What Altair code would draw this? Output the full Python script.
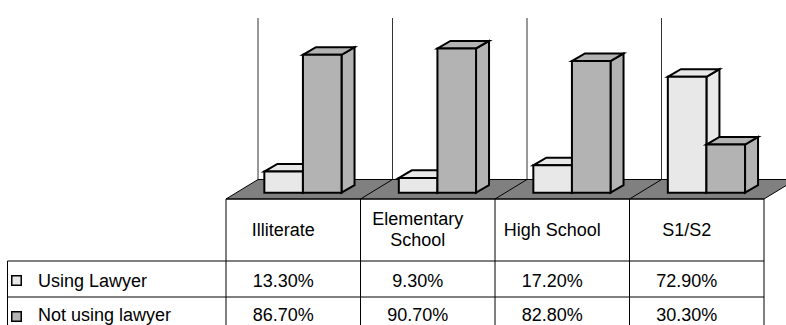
import altair as alt
import pandas as pd

# ---- data ---------------------------------------------------------------
categories = ["Illiterate", "Elementary School", "High School", "S1/S2"]
header_lines = [["Illiterate"], ["Elementary", "School"], ["High School"], ["S1/S2"]]
series = ["Using Lawyer", "Not using lawyer"]
using_lawyer = [13.3, 9.3, 17.2, 72.9]
not_using_lawyer = [86.7, 90.7, 82.8, 30.3]

# ---- layout -------------------------------------------------------------
W, H = 786, 325
COL_PX = 134.5      # width of one category column (px)
PCT_PX = 1.59       # pixels per percentage point
X0_PX = 226         # left edge of the first category column
BASE_PX = 192.7     # baseline of the bar front faces
FONT = "Liberation Sans"
FS = 18

fills = {"Using Lawyer": "#e8e8e8", "Not using lawyer": "#b3b3b3"}


def ux(px):
    return (px - X0_PX) / COL_PX


def uy(py):
    return (BASE_PX - py) / PCT_PX


x_scale = alt.Scale(domain=[ux(0), ux(W)], nice=False, zero=False)
y_scale = alt.Scale(domain=[uy(H), uy(0)], nice=False, zero=False)

BAR_START = 0.285           # first bar offset inside a column
BAR_W = 0.287               # bar width in column units
DX = 13 / COL_PX            # bar depth, horizontal
DY = 7.6 / PCT_PX           # bar depth, vertical
FLOOR_DX = 32 / COL_PX
FLOOR_FRONT = uy(199)
FLOOR_BACK = uy(179.5)
WALL_TOP = uy(18)
TEXT_DX = -10 / COL_PX      # table text sits a little left of the column centre

# ---- bar faces ----------------------------------------------------------
fronts, tops, sides = [], [], []
for s_i, (name, vals) in enumerate(zip(series, [using_lawyer, not_using_lawyer])):
    for c_i, v in enumerate(vals):
        x0 = c_i + BAR_START + s_i * BAR_W
        x1 = x0 + BAR_W
        bid = f"{name}-{c_i}"
        fronts.append({"series": name, "x": x0, "x2": x1, "y": 0, "y2": v})
        for x, lo, hi in [(x0, v, v), (x0 + DX, v, v + DY), (x1, v, v + DY), (x1 + DX, v + DY, v + DY)]:
            tops.append({"series": name, "bar": bid, "x": x, "lo": lo, "hi": hi})
        for x, lo, hi in [(x1, 0, v), (x1 + DX, DY, v + DY)]:
            sides.append({"series": name, "bar": bid, "x": x, "lo": lo, "hi": hi})

front_df = pd.DataFrame(fronts)
top_df = pd.DataFrame(tops)
side_df = pd.DataFrame(sides)

X = lambda f: alt.X(f, type="quantitative", scale=x_scale, axis=None)
Y = lambda f: alt.Y(f, type="quantitative", scale=y_scale, axis=None)
fill_enc = alt.Fill("series:N", scale=alt.Scale(domain=series, range=[fills[s] for s in series]), legend=None)

# ---- floor and back wall ------------------------------------------------
n = len(categories)
floor_df = pd.DataFrame({
    "x": [0, FLOOR_DX, n, n + FLOOR_DX],
    "lo": [FLOOR_FRONT, FLOOR_FRONT, FLOOR_FRONT, FLOOR_BACK],
    "hi": [FLOOR_FRONT, FLOOR_BACK, FLOOR_BACK, FLOOR_BACK],
})
floor = alt.Chart(floor_df).mark_area(fill="#808080", stroke="#000", strokeWidth=1).encode(
    x=X("x"), y=Y("lo"), y2="hi")

divider_df = pd.DataFrame({"x": [float(i) for i in range(1, n)]})
divider_df["x2"] = divider_df["x"] + FLOOR_DX
divider_df["y"] = FLOOR_FRONT
divider_df["y2"] = FLOOR_BACK
floor_div = alt.Chart(divider_df).mark_rule(color="#000", strokeWidth=1).encode(
    x=X("x"), x2="x2", y=Y("y"), y2="y2")

grid_df = pd.DataFrame({"x": [i + FLOOR_DX for i in range(n + 1)], "y": FLOOR_BACK, "y2": WALL_TOP})
grid = alt.Chart(grid_df).mark_rule(color="#333", strokeWidth=1).encode(
    x=X("x"), y=Y("y"), y2="y2")

# ---- bars (one series after the other so the front bars overlap correctly) --
bar_layers = []
for name in series:
    bar_layers.append(alt.Chart(side_df[side_df.series == name]).mark_area(
        stroke="#000", strokeWidth=2, strokeJoin="miter").encode(
        x=X("x"), y=Y("lo"), y2="hi", detail="bar:N", fill=fill_enc))
    bar_layers.append(alt.Chart(top_df[top_df.series == name]).mark_area(
        stroke="#000", strokeWidth=2, strokeJoin="miter").encode(
        x=X("x"), y=Y("lo"), y2="hi", detail="bar:N", fill=fill_enc))
    bar_layers.append(alt.Chart(front_df[front_df.series == name]).mark_rect(
        stroke="#000", strokeWidth=2, strokeJoin="miter").encode(
        x=X("x"), x2="x2", y=Y("y"), y2="y2", fill=fill_enc))

# ---- data table ---------------------------------------------------------
ROW_TOP = uy(261)
ROW_MID = uy(297)
BOTTOM = uy(H + 10)
LEFT = ux(7.5)

hlines = pd.DataFrame([
    {"x": 0, "x2": n, "y": FLOOR_FRONT},
    {"x": LEFT, "x2": n, "y": ROW_TOP},
    {"x": LEFT, "x2": n, "y": ROW_MID},
])
vlines = pd.DataFrame(
    [{"x": float(i), "y": FLOOR_FRONT, "y2": BOTTOM} for i in range(n + 1)]
    + [{"x": LEFT, "y": ROW_TOP, "y2": BOTTOM}])
table_h = alt.Chart(hlines).mark_rule(color="#000", strokeWidth=1).encode(x=X("x"), x2="x2", y=Y("y"))
table_v = alt.Chart(vlines).mark_rule(color="#000", strokeWidth=1).encode(x=X("x"), y=Y("y"), y2="y2")

head_rows = []
for c_i, lines in enumerate(header_lines):
    baselines = [235.5] if len(lines) == 1 else [224.5, 246]
    for line, b in zip(lines, baselines):
        head_rows.append({"x": c_i + 0.5 + TEXT_DX, "y": uy(b), "t": line})

cell_rows = []
for r_i, vals in enumerate([using_lawyer, not_using_lawyer]):
    for c_i, v in enumerate(vals):
        cell_rows.append({"x": c_i + 0.5 + TEXT_DX, "y": uy([286.7, 320.7][r_i]), "t": f"{v:.2f}%"})

text_df = pd.DataFrame(head_rows + cell_rows)
texts = alt.Chart(text_df).mark_text(
    font=FONT, fontSize=FS, color="#000", align="center", baseline="alphabetic").encode(
    x=X("x"), y=Y("y"), text="t:N")

label_df = pd.DataFrame({
    "series": series,
    "x": [ux(38)] * 2,
    "y": [uy(286.7), uy(320.7)],
    "sx": [ux(16.5)] * 2,
    "sy": [uy(280.5), uy(316.5)],
})
labels = alt.Chart(label_df).mark_text(
    font=FONT, fontSize=FS, color="#000", align="left", baseline="alphabetic").encode(
    x=X("x"), y=Y("y"), text="series:N")
swatches = alt.Chart(label_df).mark_square(size=90, filled=True, stroke="#000", strokeWidth=1.5, opacity=1).encode(
    x=X("sx"), y=Y("sy"), fill=fill_enc)

chart = alt.layer(
    grid, floor, floor_div, *bar_layers, table_h, table_v, texts, labels, swatches
).properties(
    width=W, height=H, padding=0, autosize=alt.AutoSizeParams(type="none"), background="white"
).configure_view(stroke=None)

chart.save("out.html", embed_options={"renderer": "svg", "actions": False})
